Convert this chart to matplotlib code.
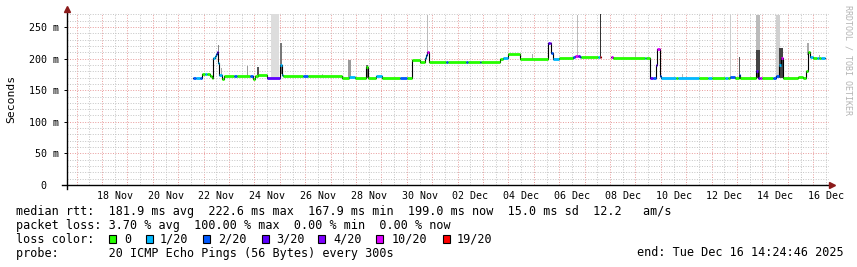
import matplotlib.pyplot as plt
import numpy as np
from datetime import datetime, timedelta
from matplotlib.patches import Rectangle

# ---- data ----
start = datetime(2025, 11, 16, 14, 24, 46)
span_days = 30

# median rtt steps: start of step (days after start), value (ms), loss bucket
med_t = [4.967, 5.10, 5.254, 5.321, 5.45, 5.55, 5.647, 5.72, 5.777, 5.83,
         5.883, 5.94, 5.97, 6.0, 6.119, 6.197, 6.60, 6.70, 7.22, 7.35,
         7.42, 7.537, 7.891, 8.40, 8.47, 8.52, 9.32, 9.52, 10.842, 11.12,
         11.354, 11.80, 11.87, 12.20, 12.405, 13.12, 13.39, 13.585, 13.912, 14.109,
         14.14, 14.176, 14.278, 14.94, 15.0, 15.73, 15.80, 16.27, 16.33, 17.06,
         17.178, 17.375, 17.847, 18.961, 19.03, 19.094, 19.157, 19.40, 19.945, 20.02,
         20.14, 20.20, 20.275, 20.93, 20.995, 21.062, 21.456, 21.52, 22.77, 22.83,
         22.963, 23.10, 23.227, 23.251, 23.357, 23.424, 24.00, 24.08, 24.90, 25.26,
         25.40, 25.91, 26.03, 26.112, 26.308, 26.47, 26.53, 27.163, 27.23, 27.30,
         27.399, 27.81, 27.95, 28.05, 28.12, 28.209, 28.79, 28.98, 29.13, 29.181,
         29.26, 29.39, 29.55, 29.62, 29.72, 29.85]
med_ms = [168.8, 168.8, 168.8, 175.6, 175.6, 175.6, 172.4, 170.0, 200.4, 204.0,
          208.0, 211.0, 193.5, 173.9, 167.2, 172.4, 172.4, 172.4, 172.4, 167.2,
          172.4, 173.9, 168.8, 190.0, 173.9, 172.4, 172.4, 172.4, 168.8, 170.4,
          168.8, 186.0, 168.8, 172.4, 168.8, 168.8, 168.8, 197.8, 195.1, 200.4,
          205.0, 210.9, 195.1, 195.1, 195.1, 195.1, 195.1, 195.1, 195.1, 198.8,
          201.4, 207.2, 199.3, 224.2, 224.2, 208.3, 199.3, 201.4, 203.1, 204.2,
          204.2, 202.0, 202.0, 202.0, 202.0, np.nan, 202.0, 201.4, 201.4, 201.4,
          168.8, 168.8, 189.8, 214.7, 172.0, 168.8, 168.8, 168.8, 168.8, 168.8,
          168.8, 168.8, 168.8, 171.3, 168.8, 173.9, 168.8, 180.8, 168.8, 168.8,
          168.8, 168.8, 172.4, 190.0, 200.4, 168.8, 171.3, 168.8, 180.8, 210.0,
          203.0, 200.4, 200.4, 200.4, 200.4, np.nan]
med_loss = [2, 1, 2, 0, 1, 0, 0, 0, 1, 1,
            2, 3, 1, 1, 0, 0, 2, 0, 2, 0,
            0, 0, 3, 1, 1, 0, 2, 0, 0, 1,
            0, 0, 0, 1, 0, 2, 0, 0, 0, 1,
            2, 5, 0, 2, 0, 2, 0, 2, 0, 0,
            1, 0, 0, 3, 4, 2, 1, 0, 2, 5,
            3, 2, 0, 1, 6, 0, 5, 0, 1, 0,
            3, 2, 3, 5, 2, 1, 0, 1, 0, 1,
            0, 1, 0, 2, 0, 2, 0, 3, 3, 5,
            0, 2, 2, 1, 5, 0, 0, 0, 0, 0,
            1, 0, 1, 0, 1, 0]

# smoke (spread of the 20 pings) where it is visible
smoke_t0 = [5.95, 6.09, 7.10, 7.49, 8.048, 8.40, 10.07, 11.08, 11.79, 12.17,
            14.21, 18.32, 20.09, 20.995, 22.39, 24.25, 25.12, 26.112, 26.466, 27.163,
            27.163, 27.95, 28.05, 29.16, 29.64]
smoke_t1 = [6.0, 6.13, 7.13, 7.58, 8.351, 8.47, 10.11, 11.2, 11.87, 12.2,
            14.25, 18.35, 20.12, 21.062, 22.42, 24.28, 25.15, 26.18, 26.533, 27.292,
            27.292, 28.08, 28.21, 29.22, 29.68]
smoke_lo = [193, 172, 172, 174, 168.8, 175, 172, 169, 170, 172,
            211, 199, 204, 202, 202, 169, 169, 171, 169, 169,
            169, 169, 169, 205, 200]
smoke_hi = [221.5, 184.6, 188, 186, 271, 224, 176, 197.8, 189.8, 180,
            269, 208, 269, 271, 210.9, 175, 175, 269, 203, 269,
            213.6, 269, 216, 224, 205.7]
smoke_col = ['#888888', '#aaaaaa', '#999999', '#555555', '#dddddd', '#777777', '#bbbbbb',
             '#999999', '#666666', '#aaaaaa', '#bbbbbb', '#aaaaaa', '#bbbbbb', '#333333',
             '#bbbbbb', '#bbbbbb', '#bbbbbb', '#cccccc', '#555555', '#bbbbbb', '#444444',
             '#d0d0d0', '#444444', '#aaaaaa', '#aaaaaa']

loss_labels = ['0', '1/20', '2/20', '3/20', '4/20', '10/20', '19/20']
loss_colors = ['#26ff00', '#00b8ff', '#0059ff', '#5e00ff', '#7e00ff', '#dd00ff', '#ff0000']

ytick_vals = [0, 50, 100, 150, 200, 250]
ytick_labels = ['0  ', '50 m', '100 m', '150 m', '200 m', '250 m']
xtick_labels = ['18 Nov', '20 Nov', '22 Nov', '24 Nov', '26 Nov', '28 Nov', '30 Nov',
                '02 Dec', '04 Dec', '06 Dec', '08 Dec', '10 Dec', '12 Dec', '14 Dec', '16 Dec']

line1 = 'median rtt:  181.9 ms avg  222.6 ms max  167.9 ms min  199.0 ms now  15.0 ms sd  12.2   am/s'
line2 = 'packet loss: 3.70 % avg  100.00 % max  0.00 % min  0.00 % now'
line4 = 'probe:       20 ICMP Echo Pings (56 Bytes) every 300s'
end_text = 'end: Tue Dec 16 14:24:46 2025'

# ---- figure ----
W, H = 857, 267
mono = 'DejaVu Sans Mono'
plt.rcParams['font.family'] = mono

fig = plt.figure(figsize=(W / 100, H / 100), dpi=100)
ax = fig.add_axes([66.5 / W, (H - 185) / H, 762 / W, 172 / H])
ymax = 272.1
ax.set_xlim(0, span_days)
ax.set_ylim(0, ymax)


def days(dt):
    return (dt - start).total_seconds() / 86400.0


# grid
dot = (0, (1, 1.6))
minor_c = '#c4c4c4'
major_c = '#e89a9a'
first_mid = datetime(2025, 11, 17)
for k in range(span_days + 1):
    mid = days(first_mid + timedelta(days=k))
    noon = days(first_mid + timedelta(days=k, hours=12))
    if 0 < noon < span_days:
        ax.axvline(noon, color=minor_c, lw=0.7, ls=dot, zorder=0)
    if 0 < mid < span_days:
        ax.axvline(mid, color=major_c, lw=0.7, ls=dot, zorder=0)
for v in range(10, 271, 10):
    ax.axhline(v, color=minor_c if v % 50 else major_c, lw=0.7, ls=dot, zorder=0)

# smoke
for t0, t1, lo, hi, c in zip(smoke_t0, smoke_t1, smoke_lo, smoke_hi, smoke_col):
    ax.bar(t0, hi - lo, bottom=lo, width=t1 - t0, align='edge', color=c, linewidth=0, zorder=1)

# median: thin black steps, then loss coloured segments
ax.step(med_t, med_ms, where='post', color='black', lw=0.8, zorder=2)
for i in range(len(med_t) - 1):
    if np.isnan(med_ms[i]):
        continue
    ax.hlines(med_ms[i], med_t[i], med_t[i + 1], colors=loss_colors[med_loss[i]],
              lw=2.0, capstyle='butt', zorder=3)

# axes look
for s in ax.spines.values():
    s.set_visible(False)
ax.plot([-4.5 / 762, 1 + 2 / 762], [0, 0], color='black', lw=1.0,
        transform=ax.transAxes, clip_on=False, zorder=4)
ax.plot([0, 0], [-4 / 172, 1 + 3 / 172], color='black', lw=1.0,
        transform=ax.transAxes, clip_on=False, zorder=4)
ax.plot([1 + 3 / 762], [0], marker='>', ms=4, color='#8b1a1a', mec='#8b1a1a',
        transform=ax.transAxes, clip_on=False, zorder=5)
ax.plot([0], [1 + 4 / 172], marker='^', ms=4, color='#8b1a1a', mec='#8b1a1a',
        transform=ax.transAxes, clip_on=False, zorder=5)

ax.set_yticks(ytick_vals)
ax.set_yticklabels(ytick_labels, fontsize=7.2, family=mono)
xt = [days(datetime.strptime(l + ' 2025', '%d %b %Y') + timedelta(hours=12)) for l in xtick_labels]
ax.set_xticks(xt)
ax.set_xticklabels(xtick_labels, fontsize=7.2, family=mono)
ax.tick_params(axis='y', length=2.5, width=0.7, pad=3)
ax.tick_params(axis='x', length=0, pad=4)

fig.text(11 / W, 1 - 99 / H, 'Seconds', rotation=90, ha='center', va='center', fontsize=8.2)
fig.text(848 / W, 1 - 60 / H, 'RRDTOOL / TOBI OETIKER', rotation=270, ha='center', va='center',
         fontsize=6, color='#b4b4b4')

# legend text
fs = 8.5
fig.text(16 / W, 1 - 211 / H, line1, va='center', fontsize=fs)
fig.text(16 / W, 1 - 225.5 / H, line2, va='center', fontsize=fs)
fig.text(16 / W, 1 - 239.5 / H, 'loss color:', va='center', fontsize=fs)
box_x = [109, 146, 203, 262, 318, 376, 443]
lab_x = [124, 160, 218.3, 276, 333.3, 391.7, 456.7]
for bx, lx, lab, c in zip(box_x, lab_x, loss_labels, loss_colors):
    fig.add_artist(Rectangle((bx / W, 1 - 243 / H), 7 / W, 8 / H, transform=fig.transFigure,
                             facecolor=c, edgecolor='black', lw=0.8))
    fig.text(lx / W, 1 - 239.5 / H, lab, va='center', fontsize=fs)
fig.text(16 / W, 1 - 253 / H, line4, va='center', fontsize=fs)
fig.text(844 / W, 1 - 253 / H, end_text, va='center', ha='right', fontsize=fs)

fig.savefig('out.png', dpi=100)
